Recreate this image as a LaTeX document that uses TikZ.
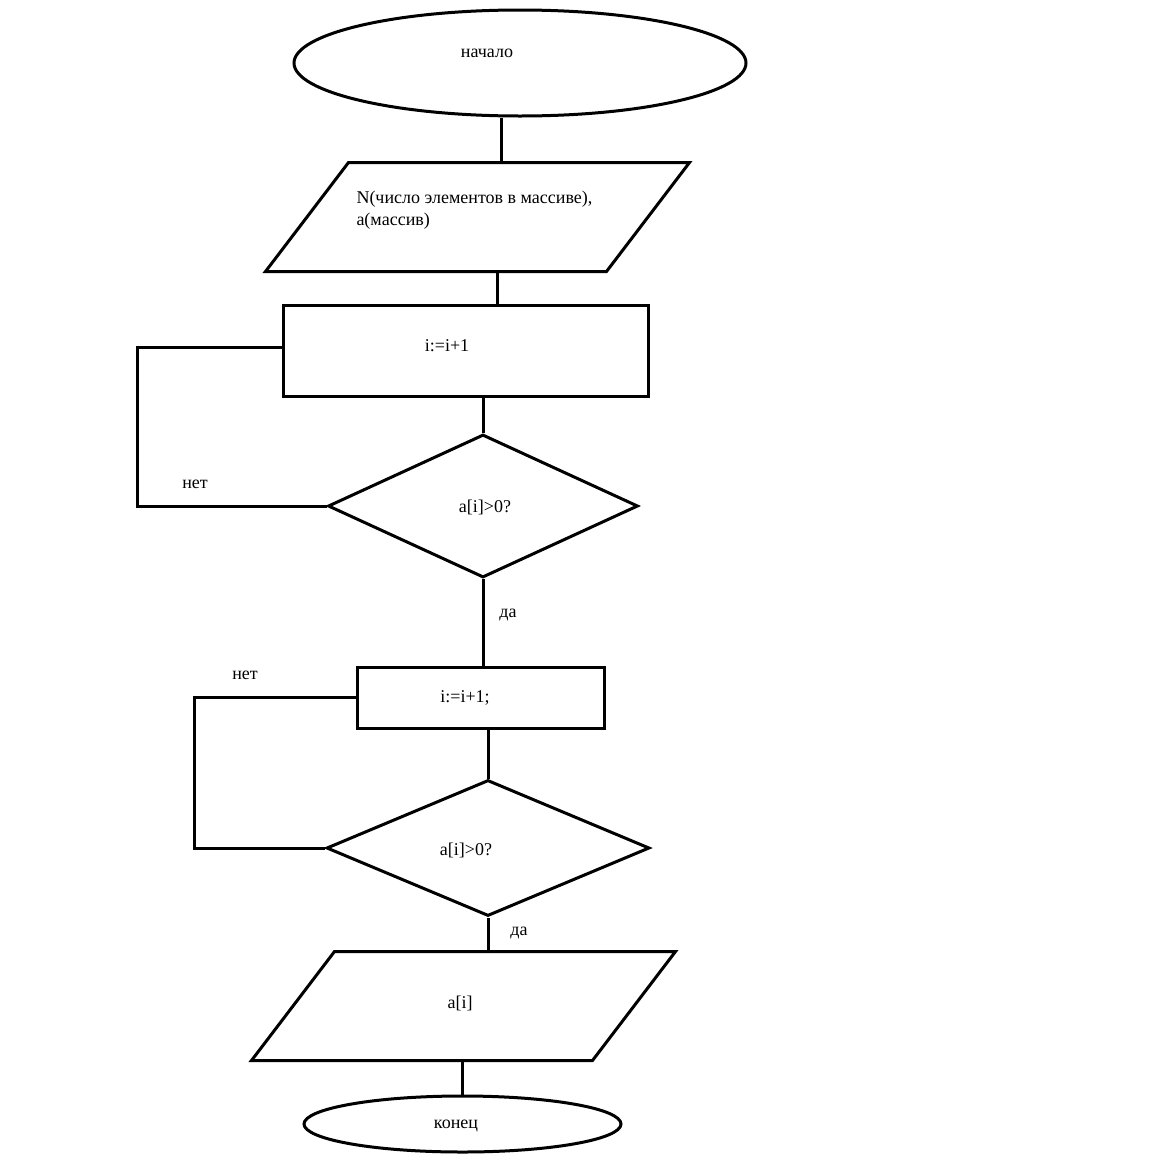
\documentclass[tikz,border=0pt]{standalone}
\usepackage{fontspec}
\setmainfont{Liberation Serif}
\usetikzlibrary{shapes.geometric}

\begin{document}
\begin{tikzpicture}[x=1pt, y=-1pt, line width=3pt, font=\fontsize{18}{22}\selectfont,
	start stop/.style={ellipse, draw, inner sep=0pt},
	io block/.style={rectangle, inner sep=0pt, minimum width=338, minimum height=106},
	process block/.style={rectangle, draw, inner sep=0pt},
	decision block/.style={diamond, draw, inner sep=0pt},
	block text/.style={inner sep=0pt},
	branch label/.style={inner sep=0pt}]
	\fill[white] (0,0) rectangle (1173,1168);
	% blocks
	\node[start stop, minimum width=452, minimum height=106] (start) at (520,63) {};
	\node[io block] (input) at (477.5,217) {};
	\node[process block, minimum width=365, minimum height=91] (step1) at (465.5,350.5) {};
	\node[decision block, minimum width=310, minimum height=143] (check1) at (483,506) {};
	\node[process block, minimum width=247, minimum height=61] (step2) at (480.5,697.5) {};
	\node[decision block, minimum width=323, minimum height=136] (check2) at (488,848) {};
	\node[io block] (output) at (463.5,1006) {};
	\node[start stop, minimum width=317, minimum height=56] (stop) at (462.5,1124) {};
	% parallelograms for input / output
	\foreach \blk in {input, output}
		\draw ([xshift=41.5]\blk.north west) -- ([xshift=41.5]\blk.north east) -- ([xshift=-41.5]\blk.south east) -- ([xshift=-41.5]\blk.south west) -- cycle;
	% texts
	\node[block text] (start text) at (487,53) {начало};
	\node[block text, anchor=west, align=left] (input text) at (355,210) {N(число элементов в массиве),\\a(массив)};
	\node[block text] (step1 text) at (447,346) {i:=i+1};
	\node[block text] (check1 text) at (485,507) {a[i]>0?};
	\node[block text] (step2 text) at (465,698) {i:=i+1;};
	\node[block text] (check2 text) at (466,850) {a[i]>0?};
	\node[block text] (output text) at (460,1003) {a[i]};
	\node[block text] (stop text) at (456,1126) {конец};
	\node[branch label] (no1) at (195,484) {нет};
	\node[branch label] (yes1) at (508,615) {да};
	\node[branch label] (no2) at (245,675) {нет};
	\node[branch label] (yes2) at (519,933) {да};
	% connectors
	\coordinate (start out) at ([xshift=-19]start.south);
	\coordinate (input out) at ([xshift=19.5]input.south);
	\coordinate (loop1 in) at ([yshift=3.5]step1.west);
	\draw (start out) -- (start out |- input.north);
	\draw (input out) -- (input out |- step1.north);
	\draw (check1.north |- step1.south) -- (check1.north);
	\draw (loop1 in) -- ++(-144,0) |- (check1.west);
	\draw (check1.south) -- (check1.south |- step2.north);
	\draw (check2.north |- step2.south) -- (check2.north);
	\draw (step2.west) -- ++(-161,0) |- (check2.west);
	\draw (check2.south) -- (check2.south |- output.north);
	\draw (stop.north |- output.south) -- (stop.north);
\end{tikzpicture}
\end{document}
